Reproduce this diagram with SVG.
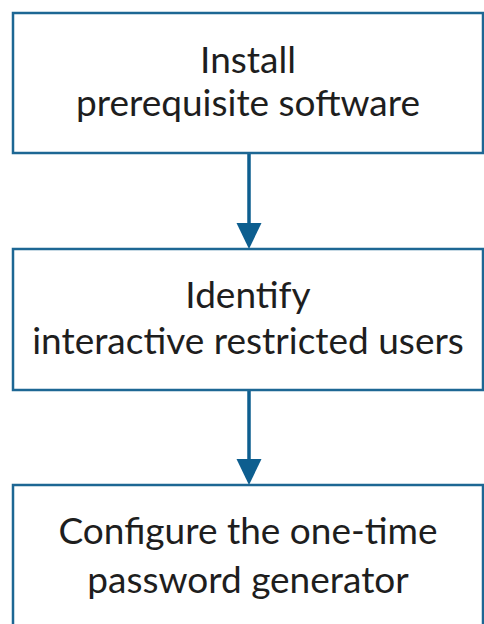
<svg xmlns="http://www.w3.org/2000/svg" width="484" height="624" viewBox="0 0 484 624">
  <defs>
    <style>
      .box { fill: #ffffff; stroke: #1d6794; stroke-width: 2.5; }
      .label { font-family: "Lato", "Open Sans", sans-serif; font-size: 37px; fill: #1e1e1e; text-anchor: middle; }
      .flow { stroke: #0d5e8f; stroke-width: 3.5; fill: none; }
      .head { fill: #0d5e8f; }
    </style>
  </defs>
  <rect width="484" height="624" fill="#ffffff"/>

  <!-- arrows between the steps: shaft plus filled triangular head -->
  <g id="connectors">
    <line class="flow" x1="249" y1="153" x2="249" y2="230"/>
    <path class="head" d="M236.5,223 L261.5,223 L249,249 Z"/>
    <line class="flow" x1="249" y1="390" x2="249" y2="466"/>
    <path class="head" d="M236.5,459 L261.5,459 L249,485 Z"/>
  </g>

  <g id="install">
    <rect class="box" x="13" y="13" width="470" height="140"/>
    <text class="label" x="248" y="73">Install</text>
    <text class="label" x="248" y="116">prerequisite software</text>
  </g>

  <g id="identify">
    <rect class="box" x="13" y="249" width="470" height="141"/>
    <text class="label" x="248" y="308">Identify</text>
    <text class="label" x="248" y="354">interactive restricted users</text>
  </g>

  <g id="configure">
    <rect class="box" x="13" y="485" width="470" height="141"/>
    <text class="label" x="248" y="544">Configure the one-time</text>
    <text class="label" x="248" y="593">password generator</text>
  </g>
</svg>
